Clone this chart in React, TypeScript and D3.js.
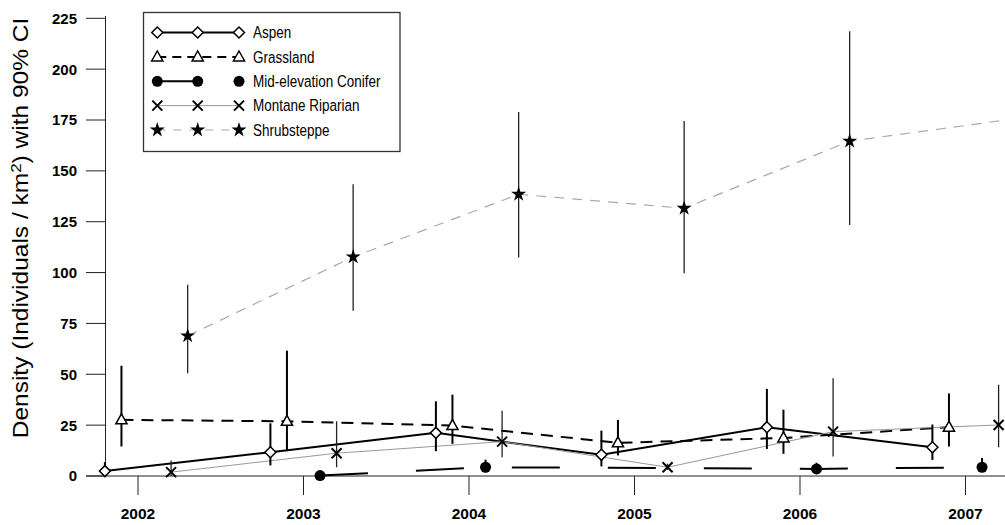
import React from "react";
import * as d3 from "d3";

const years = [2002, 2003, 2004, 2005, 2006, 2007];
const yTicks = [0, 25, 50, 75, 100, 125, 150, 175, 200, 225];

const aspenVals = [2.4, 11.7, 21.2, 10.4, 24.0, 14.1];
const aspenLo = [0, 5.2, 12.2, 4.7, 13.3, 7.9];
const aspenHi = [6.8, 25.9, 36.7, 22.3, 42.8, 25.3];

const grassVals = [27.6, 26.9, 24.8, 16.3, 18.7, 24.0];
const grassLo = [14.5, 12.2, 15.8, 10.1, 10.9, 14.5];
const grassHi = [54.2, 61.6, 40.0, 27.6, 32.6, 40.6];

const coniferVals = [null, 0.2, 4.3, null, 3.5, 4.3];
const coniferLo = [null, 0, 2.0, null, 1.5, 2.0];
const coniferHi = [null, 0.5, 8.0, null, 6.5, 8.9];

const montaneVals = [1.9, 11.2, 16.9, 4.3, 21.8, 25.1];
const montaneLo = [0, 4.3, 9.2, 3.0, 9.6, 14.1];
const montaneHi = [7.6, 26.9, 32.1, 6.0, 48.0, 44.9];

const shrubVals = [68.9, 107.7, 138.5, 131.6, 164.6, 175.6];
const shrubLo = [50.5, 81.2, 107.4, 99.7, 123.4, 130.0];
const shrubHi = [94.0, 143.4, 178.9, 174.5, 218.6, 225.0];

type Series = {
  name: string;
  offset: number;
  vals: (number | null)[];
  lo: (number | null)[];
  hi: (number | null)[];
  marker: string;
  stroke: string;
  width: number;
  dash: string;
  barWidth: number;
  barColor: string;
};

const series: Series[] = [
  { name: "Aspen", offset: -0.2, vals: aspenVals, lo: aspenLo, hi: aspenHi, marker: "diamond", stroke: "#000", width: 2, dash: "", barWidth: 2, barColor: "#000" },
  { name: "Grassland", offset: -0.1, vals: grassVals, lo: grassLo, hi: grassHi, marker: "triangle", stroke: "#000", width: 2, dash: "12,8", barWidth: 2, barColor: "#000" },
  { name: "Mid-elevation Conifer", offset: 0.1, vals: coniferVals, lo: coniferLo, hi: coniferHi, marker: "circle", stroke: "#000", width: 2, dash: "48,48", barWidth: 2, barColor: "#000" },
  { name: "Montane Riparian", offset: 0.2, vals: montaneVals, lo: montaneLo, hi: montaneHi, marker: "x", stroke: "#999", width: 1, dash: "", barWidth: 1.3, barColor: "#222" },
  { name: "Shrubsteppe", offset: 0.3, vals: shrubVals, lo: shrubLo, hi: shrubHi, marker: "star", stroke: "#aaa", width: 1.2, dash: "10,8", barWidth: 1.3, barColor: "#222" },
];

const W = 1005;
const H = 525;
const x = d3.scaleLinear().domain([2002, 2007]).range([138, 965.5]);
const y = d3.scaleLinear().domain([0, 225]).range([476, 18.3]);
const font = "'Liberation Sans', Arial, Helvetica, sans-serif";

const starPath = d3.symbol(d3.symbolStar, 70)() as string;

function Marker({ type, cx, cy }: { type: string; cx: number; cy: number }) {
  const t = `translate(${cx},${cy})`;
  if (type === "diamond")
    return <path transform={t} d="M0,-5.5L5.5,0L0,5.5L-5.5,0Z" fill="#fff" stroke="#000" strokeWidth={1.5} />;
  if (type === "triangle")
    return <path transform={t} d="M0,-6L5.6,4L-5.6,4Z" fill="#fff" stroke="#000" strokeWidth={1.5} />;
  if (type === "circle") return <circle cx={cx} cy={cy} r={5.5} fill="#000" />;
  if (type === "x")
    return (
      <path transform={t} d="M-5,-5L5,5M-5,5L5,-5" stroke="#000" strokeWidth={2} fill="none" />
    );
  return <path transform={t} d={starPath} fill="#000" />;
}

export default function App() {
  const legendRows = [32.5, 57, 81.3, 105.6, 130];
  const lx = [157.3, 197.7, 239];
  return (
    <svg
      width={W}
      height={H}
      style={{ position: "absolute", left: 0, top: 0, background: "#fff" }}
      fontFamily={font}
    >
      <defs>
        <clipPath id="plotclip">
          <rect x={0} y={0} width={W} height={H} />
        </clipPath>
      </defs>

      {/* axes */}
      <line x1={105.5} x2={105.5} y1={16} y2={476} stroke="#222" strokeWidth={1} />
      <line x1={86} x2={W} y1={476} y2={476} stroke="#222" strokeWidth={1} />
      {yTicks.map((t) => (
        <g key={t}>
          <line x1={86} x2={105} y1={y(t)} y2={y(t)} stroke="#222" strokeWidth={1} />
          <text x={77} y={y(t)} dy="0.36em" textAnchor="end" fontSize={15} fontWeight="bold">
            {t}
          </text>
        </g>
      ))}
      {years.map((yr) => (
        <g key={yr}>
          <line x1={x(yr)} x2={x(yr)} y1={476} y2={495} stroke="#222" strokeWidth={1} />
          <text x={x(yr)} y={519} textAnchor="middle" fontSize={15.5} fontWeight="bold">
            {yr}
          </text>
        </g>
      ))}
      <text
        transform={`translate(28,${228}) rotate(-90) scale(1,0.9)`}
        textAnchor="middle"
        fontSize={24.5}
      >
        Density (Individuals / km
        <tspan fontSize={17} dy={-8}>2</tspan>
        <tspan dy={8}>) with 90% CI</tspan>
      </text>

      <g clipPath="url(#plotclip)">
        {/* lines */}
        {series.map((s) => {
          const pts = years
            .map((yr, i) => ({ t: yr + s.offset, v: s.vals[i] }))
            .filter((p) => p.v !== null) as { t: number; v: number }[];
          const line = d3
            .line<{ t: number; v: number }>()
            .x((p) => x(p.t))
            .y((p) => y(p.v));
          return (
            <path
              key={s.name}
              d={line(pts) as string}
              fill="none"
              stroke={s.stroke}
              strokeWidth={s.width}
              strokeDasharray={s.dash || undefined}
            />
          );
        })}
        {/* error bars */}
        {series.map((s) =>
          years.map((yr, i) =>
            s.vals[i] === null ? null : (
              <line
                key={s.name + yr}
                x1={x(yr + s.offset)}
                x2={x(yr + s.offset)}
                y1={y(s.lo[i] as number)}
                y2={y(s.hi[i] as number)}
                stroke={s.barColor}
                strokeWidth={s.barWidth}
              />
            )
          )
        )}
        {/* markers */}
        {series.map((s) =>
          years.map((yr, i) =>
            s.vals[i] === null ? null : (
              <Marker key={s.name + yr} type={s.marker} cx={x(yr + s.offset)} cy={y(s.vals[i] as number)} />
            )
          )
        )}
      </g>

      {/* legend */}
      <rect x={143.5} y={12.5} width={256.5} height={139} fill="#fff" stroke="#333" strokeWidth={1.3} />
      {series.map((s, i) => {
        const ry = legendRows[i];
        const lineEnd = s.marker === "circle" ? lx[1] : lx[2];
        return (
          <g key={s.name}>
            <line
              x1={lx[0]}
              x2={lineEnd}
              y1={ry}
              y2={ry}
              stroke={s.stroke}
              strokeWidth={s.width}
              strokeDasharray={s.marker === "circle" ? undefined : s.dash ? (s.marker === "star" ? "8,8" : "9,6") : undefined}
            />
            {lx.map((mx) => (
              <Marker key={mx} type={s.marker} cx={mx} cy={ry} />
            ))}
            <text x={253} y={ry} dy="0.36em" fontSize={14.5} transform={`translate(253,${ry}) scale(0.93,1.08) translate(-253,${-ry})`}>
              {s.name}
            </text>
          </g>
        );
      })}
    </svg>
  );
}
